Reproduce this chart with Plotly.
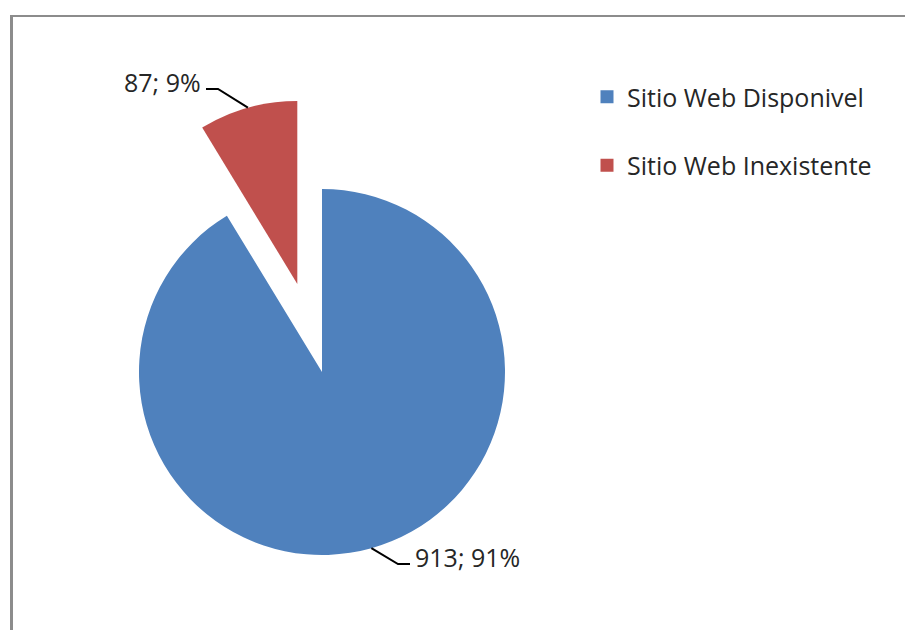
import math
import plotly.graph_objects as go

# ---- data ----
labels = ["Sitio Web Disponivel", "Sitio Web Inexistente"]
values = [913, 87]
colors = ["#4F81BD", "#C0504D"]

# ---- layout constants (pixels) ----
W, H = 905, 630
CX, CY, R = 322, 372, 183
PULLS = [0.0, 0.5]
FONT = "Open Sans"
TEXT = "#262626"
LABEL_SIZE = 25
# label anchor (x, y, side) per slice
LABEL_POS = [(413, 557, "left"), (203, 82, "right")]

total = sum(values)


def px(x):
    return x / W


def py(y):
    return 1 - y / H


# mid angles (clockwise from 12 o'clock)
mids = []
acc = 0
for v in values:
    a0 = acc / total * 360
    acc += v
    a1 = acc / total * 360
    mids.append((a0 + a1) / 2)

centers = []
for m, p in zip(mids, PULLS):
    r = math.radians(m)
    centers.append((CX + p * R * math.sin(r), CY - p * R * math.cos(r)))

fig = go.Figure()

# one pie per slice so the exploded slice keeps the full radius
for i, (cx, cy) in enumerate(centers):
    cols = [c if j == i else "rgba(0,0,0,0)" for j, c in enumerate(colors)]
    fig.add_trace(go.Pie(
        labels=labels, values=values, sort=False, direction="clockwise",
        rotation=0, marker=dict(colors=cols, line=dict(width=0)),
        textinfo="none", showlegend=False, hoverinfo="label+value+percent",
        domain=dict(x=[px(cx - R), px(cx + R)], y=[py(cy + R), py(cy - R)]),
    ))

# legend entries
for i, (lab, col) in enumerate(zip(labels, colors)):
    fig.add_trace(go.Scatter(
        x=[None], y=[None], mode="markers", name=lab, legendgroup=f"g{i}",
        marker=dict(symbol="square", size=13, color=col),
    ))

shapes = []
annotations = []
for i, (v, m) in enumerate(zip(values, mids)):
    cx, cy = centers[i]
    r = math.radians(m)
    ax, ay = cx + R * math.sin(r), cy - R * math.cos(r)
    lx, ly, side = LABEL_POS[i]
    pct = round(v / total * 100)
    annotations.append(dict(
        x=px(lx), y=py(ly), xref="paper", yref="paper",
        text=f"{v}; {pct}%", showarrow=False,
        xanchor=side, yanchor="middle",
        font=dict(family=FONT, size=LABEL_SIZE, color=TEXT),
    ))
    sgn = -1 if side == "left" else 1
    ex = lx + sgn * 3
    elx = ex + sgn * 12
    ey = ly + 7
    shapes.append(dict(
        type="path", xref="paper", yref="paper",
        path=f"M {px(ax)},{py(ay)} L {px(elx)},{py(ey)} L {px(ex)},{py(ey)}",
        line=dict(color="#000000", width=2),
    ))

# chart border (left and top)
shapes.append(dict(type="line", xref="paper", yref="paper",
                   x0=px(11.5), x1=px(11.5), y0=py(15), y1=0,
                   line=dict(color="#8C8C8C", width=3)))
shapes.append(dict(type="line", xref="paper", yref="paper",
                   x0=px(10), x1=1, y0=py(16), y1=py(16),
                   line=dict(color="#8C8C8C", width=2)))

fig.update_layout(
    width=W, height=H,
    margin=dict(l=0, r=0, t=0, b=0),
    paper_bgcolor="white", plot_bgcolor="white",
    font=dict(family=FONT, color=TEXT),
    showlegend=True,
    legend=dict(x=px(587), y=py(74), xanchor="left", yanchor="top",
                font=dict(family=FONT, size=25, color=TEXT),
                tracegroupgap=33, bgcolor="rgba(0,0,0,0)"),
    shapes=shapes, annotations=annotations,
)
fig.update_xaxes(visible=False)
fig.update_yaxes(visible=False)

fig.write_html("out.html")
